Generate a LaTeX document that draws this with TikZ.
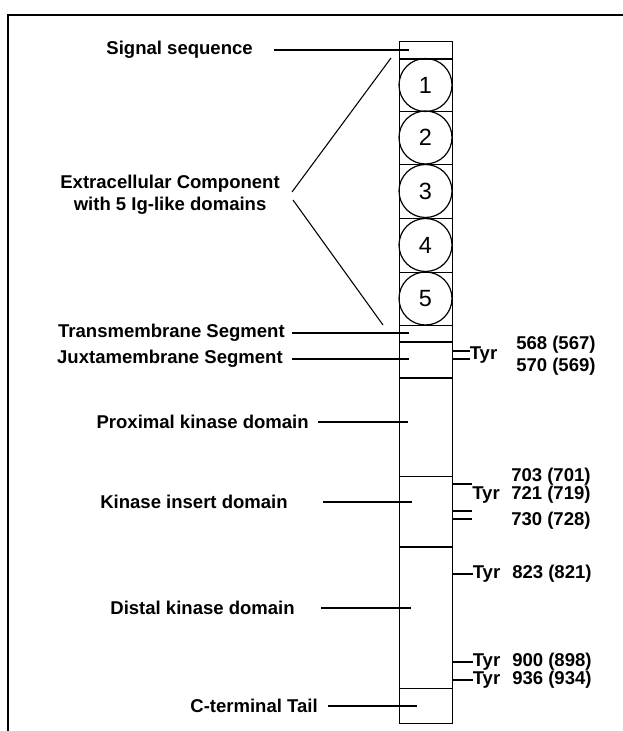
\documentclass[tikz,border=0pt]{standalone}
\usepackage{fontspec}
\setmainfont{Liberation Sans}
\usetikzlibrary{calc,positioning}

\tikzset{
  lbl/.style={font=\bfseries\fontsize{13.9}{16.5}\selectfont, inner sep=0pt},
  leadthin/.style={line width=0.8pt},
  leadthick/.style={line width=1.4pt},
  igdom/.style={draw, circle, line width=0.9pt, minimum size=39.75pt, inner sep=0pt, font=\fontsize{17.6}{20}\selectfont},
  thinsep/.style={line width=0.6pt},
  thicksep/.style={line width=1.4pt},
  tyrtick/.style={line width=0.8pt}
}

\begin{document}
\begin{tikzpicture}[x=0.75pt, y=-0.75pt]
    \useasboundingbox (0,0) rectangle (623,731);

    % Frame
    \draw[line width=1.5pt] (8,731) -- (8,15) -- (623,15);

    % Receptor bar
    \node[draw, line width=1.1pt, anchor=north west, inner sep=0pt,
          minimum width=39.75pt, minimum height=511.5pt] (bar) at (399,41) {};

    % Ig-like domains
    \foreach \n/\y in {1/85, 2/137.5, 3/191, 4/245, 5/298.5} {
        \node[igdom] (ig\n) at (425.5,\y) {\n};
    }

    % Segment borders
    \foreach \y in {111,164,218,272,325,476,688} {
        \draw[thinsep] (bar.west |- 0,\y) -- (bar.east |- 0,\y);
    }
    \foreach \y in {59,342,378,547} {
        \draw[thicksep] (bar.west |- 0,\y) -- (bar.east |- 0,\y);
    }

    % Labels on the left
    \node[lbl, anchor=east] (sig) at (253,50) {Signal sequence};
    \node[lbl, anchor=east, align=center] (ecd) at (280,195) {Extracellular Component\\with 5 Ig-like domains};
    \node[lbl, anchor=east] (tm) at (285,333) {Transmembrane Segment};
    \node[lbl, anchor=east] (jm) at (283,359) {Juxtamembrane Segment};
    \node[lbl, anchor=east] (pkd) at (309,422) {Proximal kinase domain};
    \node[lbl, anchor=east] (kid) at (288,502) {Kinase insert domain};
    \node[lbl, anchor=east] (dkd) at (295,608) {Distal kinase domain};
    \node[lbl, anchor=east] (ct) at (318,706) {C-terminal Tail};

    \coordinate (sigend) at (409,50);
    \coordinate (ecdtop) at (391,58);
    \coordinate (ecdbot) at (383,325);
    \coordinate (tmend) at (409,333);
    \coordinate (jmend) at (409,359);
    \coordinate (pkdend) at (408,422);
    \coordinate (kidend) at (412,502);
    \coordinate (dkdend) at (411,608);
    \coordinate (ctend) at (417,706);

    % Leader lines
    \draw[leadthick] ($(sig.east)+(21,0)$) -- (sigend);
    \draw[leadthin] ($(ecd.east)+(12,-3)$) -- (ecdtop);
    \draw[leadthin] ($(ecd.east)+(13,5)$) -- (ecdbot);
    \draw[leadthin] ($(tm.east)+(7,0)$) -- (tmend);
    \draw[leadthick] ($(jm.east)+(9,0)$) -- (jmend);
    \draw[leadthin] ($(pkd.east)+(9,0)$) -- (pkdend);
    \draw[leadthin] ($(kid.east)+(35,0)$) -- (kidend);
    \draw[leadthick] ($(dkd.east)+(26,0)$) -- (dkdend);
    \draw[leadthin] ($(ct.east)+(10,0)$) -- (ctend);

    % Tyr sites, juxtamembrane
    \node[lbl] (tyrjm) at (483.5,355) {Tyr};
    \node[lbl, anchor=west] (y568) at (516,345) {568 (567)};
    \node[lbl, anchor=west] (y570) at (516,367) {570 (569)};
    \foreach \y in {351,359} {
        \draw[tyrtick] (bar.east |- 0,\y) -- (tyrjm.west |- 0,\y);
    }

    % Tyr sites, kinase insert
    \node[lbl] (tyrki) at (486,495) {Tyr};
    \node[lbl, anchor=west] (y703) at (511,477) {703 (701)};
    \node[lbl, anchor=west] (y721) at (511,495) {721 (719)};
    \node[lbl, anchor=west] (y730) at (511,521) {730 (728)};
    \foreach \y in {484,511,519} {
        \draw[tyrtick] (bar.east |- 0,\y) -- (tyrki.west |- 0,\y);
    }

    % Tyr sites, distal kinase
    \foreach \num/\alt/\y in {823/821/574, 900/898/662, 936/934/680} {
        \node[lbl] (tyr\num) at (486.5,\y) {Tyr};
        \node[lbl, anchor=west] (y\num) at (512,\y) {\num\ (\alt)};
        \draw[tyrtick] (bar.east |- tyr\num.west) -- (tyr\num.west);
    }
\end{tikzpicture}
\end{document}
